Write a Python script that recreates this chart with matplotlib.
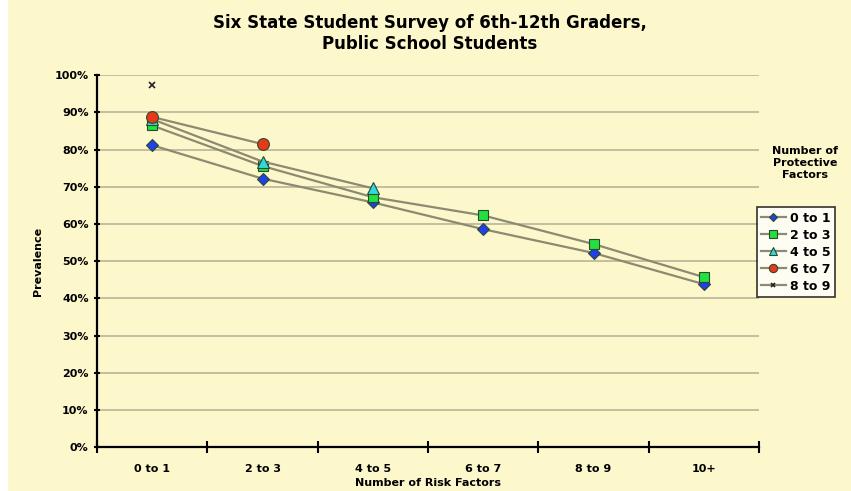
import matplotlib
matplotlib.use("Agg")
import matplotlib.pyplot as plt
from matplotlib.patches import Rectangle
import numpy as np

categories = ["0 to 1", "2 to 3", "4 to 5", "6 to 7", "8 to 9", "10+"]
p0_1 = [81.2, 72.2, 65.8, 58.6, 52.2, 43.8]
p2_3 = [86.5, 75.6, 67.2, 62.3, 54.6, 45.7]
p4_5 = [88.2, 76.8, 69.6]
p6_7 = [88.8, 81.5]
p8_9 = [97.5]
series_names = ["0 to 1", "2 to 3", "4 to 5", "6 to 7", "8 to 9"]
yticks = [0, 10, 20, 30, 40, 50, 60, 70, 80, 90, 100]

bg = "#fdf8cc"
line_col = "#8c8a70"

fig = plt.figure(figsize=(8.51, 4.91), dpi=100, facecolor=bg)
fig.patches.append(Rectangle((0, 0), 0.009, 1, transform=fig.transFigure,
                             facecolor="white", edgecolor="none", zorder=-1))
ax = fig.add_axes([0.114, 0.0896, 0.778, 0.757], facecolor=bg)

x = np.arange(len(categories))
styles = [
    (p0_1, "D", "#2040e8", 6.5),
    (p2_3, "s", "#22e040", 7.5),
    (p4_5, "^", "#30d8e0", 8),
    (p6_7, "o", "#e83a1a", 8.5),
    (p8_9, "x", "#222222", 4),
]
handles = []
for (vals, m, c, ms), name in zip(styles, series_names):
    h, = ax.plot(x[:len(vals)], vals, color=line_col, lw=1.6, marker=m,
                 markersize=ms, markerfacecolor=c,
                 markeredgecolor="#2a4a2a" if m != "x" else "#222222",
                 markeredgewidth=0.8 if m != "x" else 1.2, label=name, zorder=3)
    handles.append(h)

ax.set_xlim(-0.5, len(categories) - 0.5)
ax.set_ylim(0, 100)
ax.set_yticks(yticks)
ax.set_yticklabels([f"{v}%" for v in yticks], fontsize=8, fontweight="bold")
ax.set_xticks(x)
ax.set_xticklabels(categories, fontsize=8, fontweight="bold")
ax.set_xticks(np.arange(-0.5, len(categories)), minor=True)
ax.tick_params(axis="x", which="major", length=0, pad=12)
ax.tick_params(axis="x", which="minor", length=8, width=1.5, direction="inout")
ax.tick_params(axis="y", length=5, width=1.5, direction="inout")
ax.yaxis.grid(True, color="#b8b498", lw=1.2)
ax.set_axisbelow(True)
for s in ["top", "right"]:
    ax.spines[s].set_visible(False)
for s in ["left", "bottom"]:
    ax.spines[s].set_linewidth(1.6)

ax.set_ylabel("Prevalence", fontsize=8, fontweight="bold", labelpad=8)
ax.set_xlabel("Number of Risk Factors", fontsize=8, fontweight="bold", labelpad=3)

fig.text(0.505, 0.932, "Six State Student Survey of 6th-12th Graders,\nPublic School Students",
         ha="center", va="center", fontsize=12, fontweight="bold", linespacing=1.25)

fig.text(0.946, 0.668, "Number of\nProtective\nFactors", ha="center", va="center",
         fontsize=8, fontweight="bold", linespacing=1.2)

leg = fig.legend(handles=handles, loc="upper left", bbox_to_anchor=(0.889, 0.578),
                 prop={"weight": "bold", "size": 9}, frameon=True,
                 fancybox=False, edgecolor="black", handlelength=2.0,
                 borderpad=0.35, labelspacing=0.32, handletextpad=0.3,
                 borderaxespad=0, markerscale=0.7)
leg.get_frame().set_linewidth(1.2)
leg.get_frame().set_facecolor("white")

fig.savefig("out.png", dpi=100, facecolor=bg)
